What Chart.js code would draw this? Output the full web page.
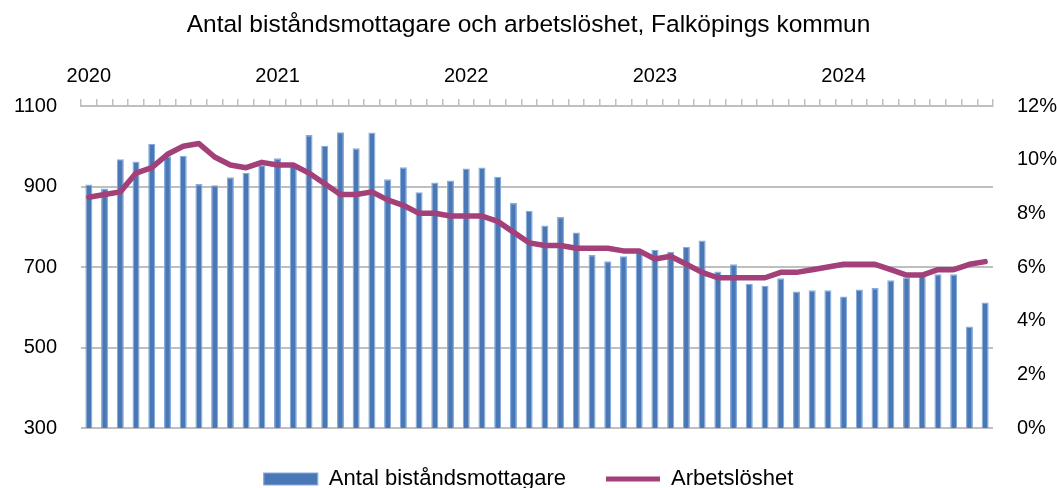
<!DOCTYPE html>
<html>
<head>
<meta charset="utf-8">
<script src="https://cdn.jsdelivr.net/npm/chart.js@4.4.1/dist/chart.umd.min.js"></script>
<style>
  html, body { margin: 0; padding: 0; background: #fff; overflow: hidden; }
</style>
</head>
<body>
<canvas id="chart" width="1057" height="500"></canvas>
<script>
// months, Jan 2020 - Oct 2024
const months = [
  '2020-01', '2020-02', '2020-03', '2020-04', '2020-05', '2020-06', '2020-07', '2020-08', '2020-09', '2020-10', '2020-11', '2020-12',
  '2021-01', '2021-02', '2021-03', '2021-04', '2021-05', '2021-06', '2021-07', '2021-08', '2021-09', '2021-10', '2021-11', '2021-12',
  '2022-01', '2022-02', '2022-03', '2022-04', '2022-05', '2022-06', '2022-07', '2022-08', '2022-09', '2022-10', '2022-11', '2022-12',
  '2023-01', '2023-02', '2023-03', '2023-04', '2023-05', '2023-06', '2023-07', '2023-08', '2023-09', '2023-10', '2023-11', '2023-12',
  '2024-01', '2024-02', '2024-03', '2024-04', '2024-05', '2024-06', '2024-07', '2024-08', '2024-09', '2024-10'
];

// Antal biståndsmottagare (left axis)
const recipients = [
  905, 895, 968, 962, 1006, 975, 976, 906, 903, 923, 934, 953,
  970, 952, 1028, 1001, 1035, 995, 1034, 918, 948, 886, 910, 915,
  945, 947, 924, 859, 840, 803, 824, 786, 730, 714, 727, 738,
  743, 738, 750, 766, 689, 707, 658, 653, 672, 639, 642, 642,
  627, 644, 648, 667, 674, 686, 682, 682, 552, 612
];

// Arbetslöshet in percent (right axis)
const unemployment = [
  8.6, 8.7, 8.8, 9.5, 9.7, 10.2, 10.5, 10.6, 10.1, 9.8, 9.7, 9.9,
  9.8, 9.8, 9.5, 9.1, 8.7, 8.7, 8.8, 8.5, 8.3, 8.0, 8.0, 7.9,
  7.9, 7.9, 7.7, 7.3, 6.9, 6.8, 6.8, 6.7, 6.7, 6.7, 6.6, 6.6,
  6.3, 6.4, 6.1, 5.8, 5.6, 5.6, 5.6, 5.6, 5.8, 5.8, 5.9, 6.0,
  6.1, 6.1, 6.1, 5.9, 5.7, 5.7, 5.9, 5.9, 6.1, 6.2
];

const leftTicks = { min: 300, max: 1100, step: 200 };
const rightTicks = { min: 0, max: 12, step: 2 };

const gridColor = '#bfbfbf';
const barColor = '#4a78b6';
const barEdge = '#86acdb';
const lineColor = '#a3407a';

Chart.defaults.font.family = '"Liberation Sans", Arial, sans-serif';
Chart.defaults.color = '#000';

new Chart(document.getElementById('chart'), {
  type: 'bar',
  data: {
    labels: months,
    datasets: [
      {
        label: 'Antal biståndsmottagare',
        data: recipients,
        yAxisID: 'y',
        order: 2,
        backgroundColor: barColor,
        borderColor: barEdge,
        borderWidth: 1.2,
        pointStyle: 'rect',
        barPercentage: 0.45,
        categoryPercentage: 1
      },
      {
        type: 'line',
        label: 'Arbetslöshet',
        data: unemployment,
        yAxisID: 'y1',
        order: 1,
        borderColor: lineColor,
        backgroundColor: lineColor,
        borderWidth: 5.5,
        borderJoinStyle: 'round',
        borderCapStyle: 'round',
        tension: 0,
        pointStyle: 'line',
        pointRadius: 0,
        pointHoverRadius: 0,
        pointBorderWidth: 5,
        pointBorderColor: lineColor,
        pointBackgroundColor: lineColor
      }
    ]
  },
  options: {
    responsive: false,
    animation: false,
    plugins: {
      title: {
        display: true,
        text: 'Antal biståndsmottagare och arbetslöshet, Falköpings kommun',
        color: '#000',
        font: { size: 24.5, weight: 'normal' },
        padding: { top: 11, bottom: 0 }
      },
      legend: {
        position: 'bottom',
        labels: {
          usePointStyle: true,
          pointStyleWidth: 54,
          boxHeight: 12,
          padding: 40,
          font: { size: 22 },
          sort: (a, b) => a.datasetIndex - b.datasetIndex
        }
      },
      tooltip: { enabled: false }
    },
    scales: {
      x: {
        position: 'top',
        offset: true,
        grid: {
          offset: true,
          drawOnChartArea: false,
          drawTicks: true,
          tickLength: 7,
          color: gridColor,
          lineWidth: 1.5
        },
        border: { display: true, color: gridColor, width: 2 },
        ticks: {
          autoSkip: false,
          maxRotation: 0,
          padding: 11,
          font: { size: 20 },
          callback: (value, index) => months[index].endsWith('-01') ? months[index].slice(0, 4) : ''
        },
        afterFit: (scale) => { scale.height = 65.6; }
      },
      y: {
        position: 'left',
        min: leftTicks.min,
        max: leftTicks.max,
        ticks: { stepSize: leftTicks.step, padding: 24, font: { size: 20 }, callback: (v) => String(v) },
        grid: { color: gridColor, lineWidth: 2, drawTicks: false },
        border: { display: false },
        afterFit: (scale) => { scale.width = 81; }
      },
      y1: {
        position: 'right',
        min: rightTicks.min,
        max: rightTicks.max,
        ticks: { stepSize: rightTicks.step, padding: 24, font: { size: 20 }, callback: (v) => v + '%' },
        grid: { display: false, drawTicks: false },
        border: { display: false },
        afterFit: (scale) => { scale.width = 64; }
      }
    }
  }
});
</script>
</body>
</html>
